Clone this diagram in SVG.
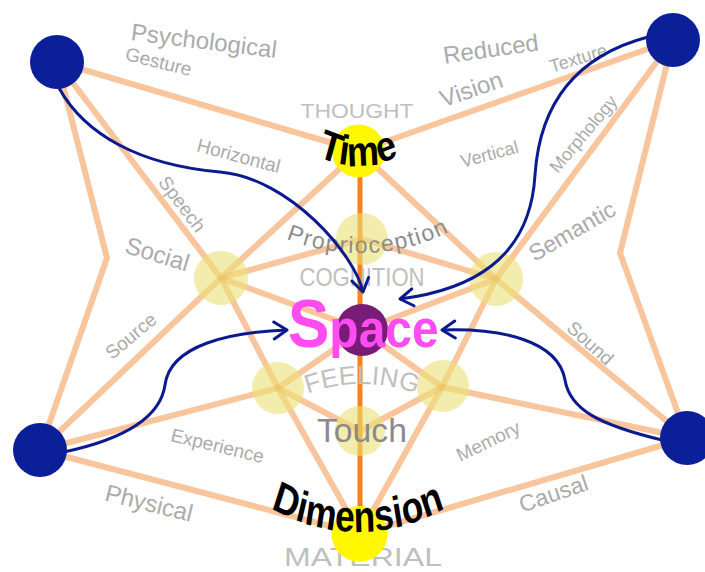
<svg xmlns="http://www.w3.org/2000/svg" width="705" height="572" viewBox="0 0 705 572">
<defs>
<style>
.ln{fill:none;stroke:#F59E5C;stroke-opacity:.6;stroke-width:6;stroke-linejoin:round;stroke-linecap:round}
.vl{stroke:#F6821C;stroke-width:5}
.arr{fill:none;stroke:#0B1A8E;stroke-width:3;marker-end:url(#ah)}
.pale{fill:#E9E175;fill-opacity:.6}
.blue{fill:#0B1F99}
.lbl{font-family:"Liberation Sans",Arial,sans-serif;fill:#ABABAB;text-anchor:middle}
.s{font-size:19px}
.b{font-size:24px}
.cap{font-family:"Liberation Sans",Arial,sans-serif;fill:#BFBFBF;text-anchor:middle}
.bk{font-family:"Liberation Sans",Arial,sans-serif;font-weight:bold;fill:#000}
</style>
<marker id="ah" markerUnits="userSpaceOnUse" markerWidth="22" markerHeight="22" refX="15" refY="11" orient="auto" viewBox="0 0 22 22">
<path d="M2 2.5 L15 11 L2 19.5" fill="none" stroke="#0B1A8E" stroke-width="3" stroke-linecap="round" stroke-linejoin="round"/>
</marker>
<path id="arcTime" d="M257 79 A98.8 85 0 0 0 459 79"/>
<path id="arcDim" d="M145.5 362 A212.5 170 0 0 0 570.5 362"/>
<path id="arcProp" d="M160 53 A200 200 0 0 0 560 53"/>
<path id="arcFeel" d="M202 544 A160 160 0 0 1 522 544"/>
</defs>
<rect width="705" height="572" fill="#fff"/>

<g id="connectors">
<polyline class="ln" points="57,62 359,151"/>
<polyline class="ln" points="359,151 673,40"/>
<polyline class="ln" points="57,62 107,258 40,450"/>
<polyline class="ln" points="673,40 620,253 687,438"/>
<polyline class="ln" points="40,450 360,534"/>
<polyline class="ln" points="360,534 687,438"/>
<polyline class="ln" points="57,62 221,278 278,388 360,534"/>
<polyline class="ln" points="673,40 496,279 442,387 360,534"/>
<polyline class="ln" points="40,450 221,278 359,151"/>
<polyline class="ln" points="687,438 496,279 359,151"/>
<polyline class="ln" points="40,450 278,388"/>
<polyline class="ln" points="687,438 442,387"/>
<polyline class="ln" points="221,278 362,239 496,279"/>
<polyline class="ln" points="221,278 362,330"/>
<polyline class="ln" points="496,279 362,330"/>
<polyline class="ln" points="278,388 362,330"/>
<polyline class="ln" points="442,387 362,330"/>
<polyline class="ln" points="278,388 360,431 442,387"/>
<line class="vl" x1="360" y1="151" x2="360" y2="534"/>
</g>

<g id="node-social"><circle class="pale" cx="221" cy="278" r="27"/></g>
<g id="node-semantic"><circle class="pale" cx="496" cy="279" r="27"/></g>
<g id="node-proprioception"><circle class="pale" cx="362" cy="239" r="26"/></g>
<g id="node-feeling-left"><circle class="pale" cx="278" cy="388" r="26"/></g>
<g id="node-feeling-right"><circle class="pale" cx="443" cy="386" r="26"/></g>
<g id="node-touch"><circle class="pale" cx="360" cy="431" r="25"/></g>

<g id="labels">
<text class="lbl b" transform="translate(203,49) rotate(7)">Psychological</text>
<text class="lbl s" transform="translate(157,68) rotate(14)">Gesture</text>
<text class="lbl s" transform="translate(237,162) rotate(15)">Horizontal</text>
<text class="lbl s" transform="translate(177,208) rotate(53)">Speech</text>
<text class="lbl b" transform="translate(155,262) rotate(17)">Social</text>
<text class="lbl s" transform="translate(135,341) rotate(-40)">Source</text>
<text class="lbl s" transform="translate(216,452) rotate(13.5)">Experience</text>
<text class="lbl b" transform="translate(147,511) rotate(14)">Physical</text>
<text class="lbl b" transform="translate(492,57) rotate(-8)">Reduced</text>
<text class="lbl b" transform="translate(474,97) rotate(-19)">Vision</text>
<text class="lbl" font-size="18" transform="translate(580,64) rotate(-17)">Texture</text>
<text class="lbl" font-size="18" transform="translate(491,160) rotate(-15)">Vertical</text>
<text class="lbl" font-size="18" transform="translate(588,138) rotate(-50)">Morphology</text>
<text class="lbl" font-size="23" transform="translate(576,238) rotate(-30)">Semantic</text>
<text class="lbl s" transform="translate(586,348) rotate(42)">Sound</text>
<text class="lbl s" transform="translate(491,447) rotate(-26)">Memory</text>
<text class="lbl" font-size="23" transform="translate(556,501) rotate(-19)">Causal</text>
<text class="cap" x="357" y="118" font-size="21" textLength="113" lengthAdjust="spacingAndGlyphs">THOUGHT</text>
<text class="cap" x="362" y="286" font-size="26" textLength="125" lengthAdjust="spacingAndGlyphs">COGNITION</text>
<text class="cap" font-size="26"><textPath href="#arcFeel" startOffset="50%" text-anchor="middle">FEELING</textPath></text>
<text class="cap" x="363" y="566" font-size="26" textLength="158" lengthAdjust="spacingAndGlyphs">MATERIAL</text>
<text font-family="Liberation Sans, Arial, sans-serif" fill="#8C8C8C" font-size="23" letter-spacing="1.5"><textPath href="#arcProp" startOffset="323" text-anchor="middle">Proprioception</textPath></text>
<text font-family="Liberation Sans, Arial, sans-serif" fill="#8A8A8A" x="362" y="442" font-size="34" text-anchor="middle" textLength="90" lengthAdjust="spacingAndGlyphs">Touch</text>
</g>

<g id="arrows">
<path class="arr" d="M59 88 C85 135 140 165 220 172 C290 178 355 255 363 292"/>
<path class="arr" d="M648 37 C580 55 540 100 535 175 C530 260 470 290 400 299"/>
<path class="arr" d="M64 452 C120 440 160 420 165 385 C170 345 230 332 287 330"/>
<path class="arr" d="M662 440 C600 425 570 410 565 380 C558 340 500 328 442 330"/>
</g>

<g id="node-tl"><circle class="blue" cx="57" cy="62" r="27"/></g>
<g id="node-tr"><circle class="blue" cx="673" cy="40" r="27"/></g>
<g id="node-bl"><circle class="blue" cx="40" cy="450" r="27"/></g>
<g id="node-br"><circle class="blue" cx="687" cy="438" r="27"/></g>

<g id="node-time">
<circle cx="358.5" cy="151" r="26.5" fill="#FFF800"/>
<g transform="translate(358,0) scale(0.86,1) translate(-358,0)">
<text class="bk" font-size="42"><textPath href="#arcTime" startOffset="50%" text-anchor="middle">Time</textPath></text>
</g>
</g>

<g id="node-space">
<circle cx="362" cy="330" r="26" fill="#781C78"/>
<text font-family="Liberation Sans, Arial, sans-serif" font-weight="bold" fill="#FF4CF0" transform="translate(288,347) scale(1,1.1)"><tspan font-size="62">S</tspan><tspan font-size="48">pace</tspan></text>
</g>

<g id="node-dimension">
<circle cx="359.5" cy="534" r="28" fill="#FFF800"/>
<g transform="translate(358,0) scale(0.8,1) translate(-358,0)">
<text class="bk" font-size="44"><textPath href="#arcDim" startOffset="50%" text-anchor="middle">Dimension</textPath></text>
</g>
</g>
</svg>
